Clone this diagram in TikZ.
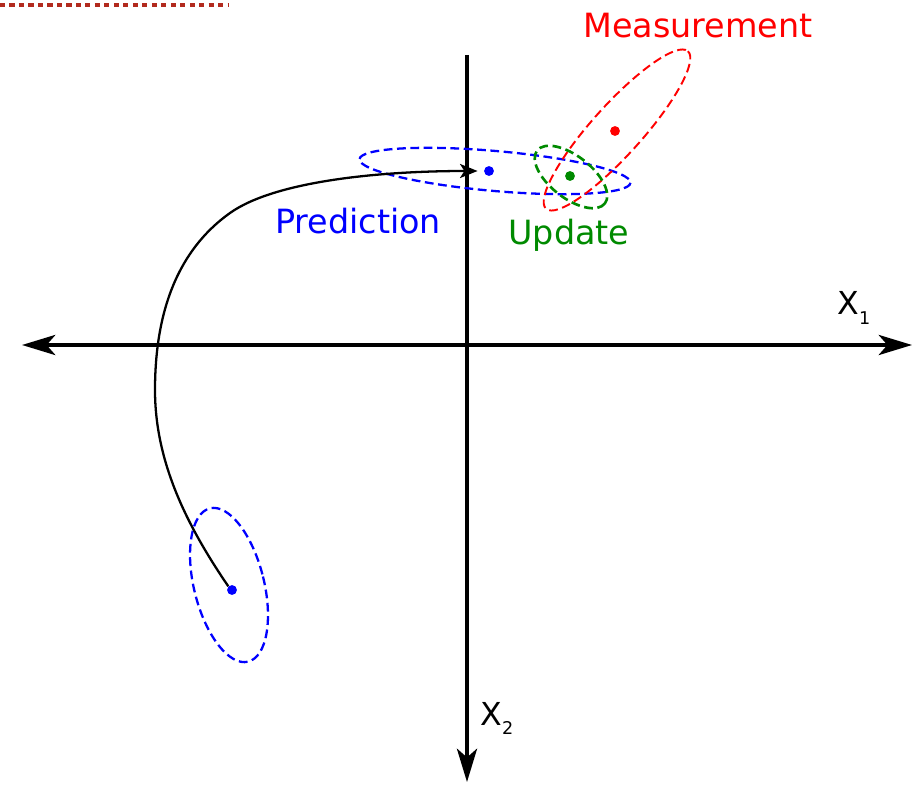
\documentclass[tikz,border=0pt]{standalone}
\usepackage{fontspec}
\setmainfont{DejaVu Sans}
\usepackage{tikz}
\usetikzlibrary{arrows.meta, positioning}
\definecolor{predblue}{HTML}{0000FF}
\definecolor{measred}{HTML}{FF0000}
\definecolor{updgreen}{HTML}{008A00}
\definecolor{barred}{HTML}{B22A1E}

\begin{document}
\begin{tikzpicture}[
    x=0.02cm, y=-0.02cm,
    axtip/.tip={Stealth[length=19pt, width=11.5pt, inset=5pt]},
    axisline/.style={line width=1.9pt, black},
    spread/.style={line width=1.3pt, dash pattern=on 5pt off 2.6pt},
    dot/.style={circle, fill=#1, inner sep=0pt, minimum size=5.6pt},
    lbl/.style={font=\fontsize{19}{22}\selectfont, text=#1, anchor=base, inner sep=0pt},
    axlbl/.style={font=\fontsize{18}{20}\selectfont, anchor=base west, inner sep=0pt},
    flow/.style={line width=1.3pt, -{Stealth[length=10pt, width=8pt, inset=2.5pt]}},
]
    \useasboundingbox (0,0) rectangle (916,787);

    \coordinate (bar0) at (0,5);
    \coordinate (bar1) at (228,5);
    \draw[barred, line width=2.6pt, dash pattern=on 2.9pt off 2.5pt] (bar0) -- (bar1);

    \coordinate (xl) at (22,345);
    \coordinate (xr) at (912,345);
    \coordinate (yt) at (467,55);
    \coordinate (yb) at (467,782);
    \draw[axisline, axtip-axtip] (xl) -- (xr);
    \draw[axisline, -axtip] (yt) -- (yb);
    \node[axlbl] (x1) at (837,315) {X\raisebox{-5.6pt}{\fontsize{10}{10}\selectfont 1}};
    \node[axlbl] (x2) at (480,725) {X\raisebox{-5.6pt}{\fontsize{10}{10}\selectfont 2}};

    \coordinate (cprior) at (229,585);
    \coordinate (cpred) at (495,171);
    \coordinate (cmeas) at (617,130);
    \coordinate (cupd) at (571,177);
    \draw[spread, predblue, rotate around={14:(cprior)}] (cprior) ellipse [x radius=35, y radius=79];
    \draw[spread, predblue, rotate around={-5:(cpred)}] (cpred) ellipse [x radius=136, y radius=20];
    \draw[spread, measred, line width=1.1pt, rotate around={48:(cmeas)}] (cmeas) ellipse [x radius=106, y radius=25];
    \draw[spread, updgreen, line width=1.5pt, rotate around={-38:(cupd)}] (cupd) ellipse [x radius=43, y radius=21];

    \node[dot=predblue] (prior) at (232,590) {};
    \node[dot=predblue] (pred) at (489,171) {};
    \node[dot=measred] (meas) at (615,131) {};
    \node[dot=updgreen] (upd) at (570,176) {};

    \draw[flow, shorten >=3.5pt] (prior.135) .. controls (185,523) and (155,460) .. (155,390)
        .. controls (155,300) and (185,245) .. (230,213)
        .. controls (275,181) and (380,171) .. (pred.west);

    \node[lbl=measred] (measlbl) at (698,38) {Measurement};
    \node[lbl=predblue] (predlbl) at (358,234) {Prediction};
    \node[lbl=updgreen] (updlbl) at (569,245) {Update};
\end{tikzpicture}
\end{document}
